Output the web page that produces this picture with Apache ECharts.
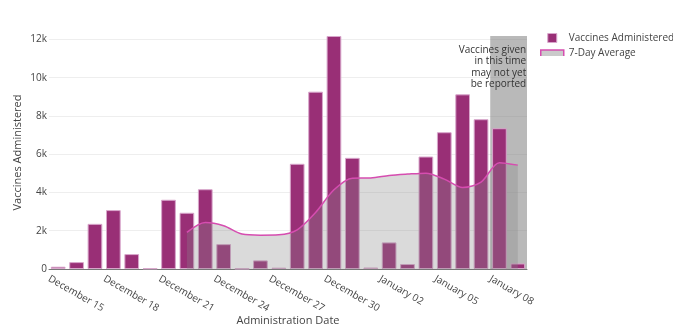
<!DOCTYPE html>
<html>
<head>
<meta charset="utf-8">
<script src="https://cdn.jsdelivr.net/npm/echarts@6/dist/echarts.min.js"></script>
<style>
  html, body { margin: 0; padding: 0; background: #fff; }
  #chart { width: 673px; height: 332px; }
</style>
</head>
<body>
<div id="chart"></div>
<script>
// Administration dates (one bar per day)
const dates = [
  'December 15', 'December 16', 'December 17', 'December 18', 'December 19',
  'December 20', 'December 21', 'December 22', 'December 23', 'December 24',
  'December 25', 'December 26', 'December 27', 'December 28', 'December 29',
  'December 30', 'December 31', 'January 01', 'January 02', 'January 03',
  'January 04', 'January 05', 'January 06', 'January 07', 'January 08',
  'January 09'
];

// Daily doses administered
const vaccines = [
  120, 360, 2360, 3080, 780, 30, 3620, 2940, 4170, 1300,
  20, 450, 70, 5500, 9270, 12180, 5810, 80, 1390, 260,
  5880, 7150, 9130, 7830, 7360, 290
];

// Trailing 7-day average (starts once a full week is available)
const sevenDayAvg = [
  null, null, null, null, null, null, null, 1910, 2430, 2260,
  1830, 1770, 1790, 2050, 2950, 4140, 4750, 4760, 4890, 4960,
  5010, 4700, 4260, 4540, 5560, 5430
];

// Days whose counts may still be incomplete (day indexes, band edges)
const pendingFrom = 24;   // start of January 08
const pendingTo = 26;     // end of January 09
const pendingNote = 'Vaccines given\nin this time\nmay not yet\nbe reported';

// Every third day gets a date label
const dateLabelStep = 3;

const FONT = '"Open Sans", "DejaVu Sans", sans-serif';
const BAR = '#992f76';
const LINE = '#d64db0';
const AVG_FILL = 'rgba(135,135,135,0.44)';

const chart = echarts.init(document.getElementById('chart'));

chart.setOption({
  animation: false,
  textStyle: { fontFamily: FONT },
  grid: { left: 49, right: 146, top: 36, bottom: 63, containLabel: false, outerBoundsMode: 'none' },
  legend: {
    orient: 'vertical',
    left: 535,
    top: 28,
    itemGap: 5,
    itemWidth: 23,
    itemHeight: 9,
    textStyle: { fontFamily: FONT, fontSize: 10, color: '#444', overflow: 'none', width: 130 },
    data: [
      {
        name: 'Vaccines Administered',
        icon: 'path://M0,0h1v1h-1z',
        itemStyle: { color: BAR, borderColor: '#d8a6cb', borderWidth: 1 }
      },
      {
        name: '7-Day Average',
        icon: 'path://M0,6L0,0L23,0L23,6',
        itemStyle: { color: AVG_FILL, borderColor: LINE, borderWidth: 1.5 }
      }
    ]
  },
  xAxis: [
    {
      // day bands for the bars and the average line
      type: 'category',
      data: dates,
      position: 'bottom',
      name: 'Administration Date',
      nameLocation: 'middle',
      nameGap: 46,
      nameMoveOverlap: false,
      nameTextStyle: { fontFamily: FONT, fontSize: 11, color: '#444' },
      axisLine: { lineStyle: { color: '#777', width: 1 } },
      axisTick: { show: false },
      axisLabel: { show: false }
    },
    {
      // same span measured in days: carries the date labels and the pending band
      type: 'value',
      position: 'bottom',
      min: 0,
      max: dates.length,
      interval: dateLabelStep,
      axisLine: { show: false },
      axisTick: { show: false },
      splitLine: { show: false },
      axisLabel: {
        showMaxLabel: false,
        rotate: -30,
        margin: 9,
        fontFamily: FONT,
        fontSize: 10,
        color: '#444',
        formatter: v => dates[v] || ''
      }
    }
  ],
  yAxis: {
    type: 'value',
    min: 0,
    max: 12180,
    interval: 2000,
    name: 'Vaccines Administered',
    nameLocation: 'middle',
    nameGap: 31,
    nameMoveOverlap: false,
    nameTextStyle: { fontFamily: FONT, fontSize: 11, color: '#444', verticalAlign: 'middle' },
    axisLine: { show: false },
    axisTick: { show: false },
    axisLabel: {
      showMaxLabel: false,
      margin: 2,
      fontFamily: FONT,
      fontSize: 10,
      color: '#444',
      formatter: v => (v === 0 ? '0' : (v / 1000) + 'k')
    },
    splitLine: { showMaxLine: false, lineStyle: { color: '#eee', width: 1 } }
  },
  series: [
    {
      name: 'Vaccines Administered',
      type: 'bar',
      data: vaccines,
      barCategoryGap: '20%',
      itemStyle: { color: BAR, borderColor: '#d8a6cb', borderWidth: 1 },
      z: 2
    },
    {
      name: '7-Day Average',
      type: 'line',
      data: sevenDayAvg,
      smooth: 0.3,
      symbol: 'none',
      lineStyle: { color: LINE, width: 1.5 },
      itemStyle: { color: LINE },
      areaStyle: { color: AVG_FILL, origin: 'start' },
      z: 3
    },
    {
      // shaded band over the most recent, possibly incomplete days
      name: 'pending',
      type: 'line',
      xAxisIndex: 1,
      data: [],
      silent: true,
      z: 4,
      markArea: {
        silent: true,
        itemStyle: { color: 'rgba(128,128,128,0.55)' },
        label: {
          show: true,
          position: [36, 8],
          align: 'right',
          verticalAlign: 'top',
          fontFamily: FONT,
          fontSize: 10,
          lineHeight: 11.5,
          color: '#333'
        },
        data: [[
          { xAxis: pendingFrom, name: pendingNote },
          { xAxis: pendingTo }
        ]]
      }
    }
  ]
});
</script>
</body>
</html>
